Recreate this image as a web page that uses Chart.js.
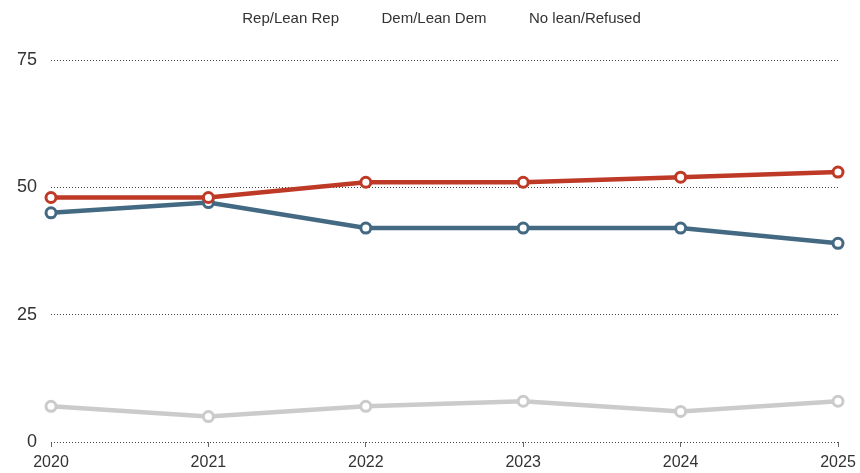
<!DOCTYPE html>
<html>
<head>
<meta charset="utf-8">
<script src="https://cdn.jsdelivr.net/npm/chart.js@4.4.0/dist/chart.umd.min.js"></script>
<style>
  html, body { margin: 0; padding: 0; background: #fff; }
  #wrap { width: 860px; height: 473px; }
</style>
</head>
<body>
<div id="wrap"><canvas id="c" width="860" height="473"></canvas></div>
<script>
const years = ['2020', '2021', '2022', '2023', '2024', '2025'];
const repLean = [48, 48, 51, 51, 52, 53];
const demLean = [45, 47, 42, 42, 42, 39];
const noLean = [7, 5, 7, 8, 6, 8];
const yTicks = [0, 25, 50, 75];

const font = "'Liberation Sans', Arial, sans-serif";

function series(label, data, color) {
	return {
		label: label,
		data: data,
		borderColor: color,
		backgroundColor: '#fff',
		borderWidth: 4.5,
		pointRadius: 5,
		pointBorderWidth: 3,
		pointBackgroundColor: '#fff',
		pointBorderColor: color,
		tension: 0
	};
}

// push the plot down below the legend
const legendGap = {
	id: 'legendGap',
	afterInit(chart) {
		const lg = chart.legend;
		const fit = lg.fit;
		lg.fit = function() {
			fit.call(this);
			this.height += 24;
		};
	}
};

new Chart(document.getElementById('c'), {
	type: 'line',
	data: {
		labels: years,
		datasets: [
			series('Rep/Lean Rep', repLean, '#be3a26'),
			series('Dem/Lean Dem', demLean, '#436983'),
			series('No lean/Refused', noLean, '#cbcbcb')
		]
	},
	options: {
		responsive: false,
		animation: false,
		layout: { padding: { top: 6, right: 22, left: 0, bottom: 0 } },
		plugins: {
			legend: {
				labels: {
					boxWidth: 0,
					boxHeight: 0,
					padding: 5,
					color: '#333',
					font: { family: font, size: 15 },
					// first item gets extra leading space so the row sits right of centre
					generateLabels: chart => chart.data.datasets.map((d, i) => ({
						text: (i === 0 ? '\u2003\u2003\u2002' : '') + '\u2003' + d.label + '\u2003',
						datasetIndex: i,
						fillStyle: 'rgba(0,0,0,0)',
						strokeStyle: 'rgba(0,0,0,0)',
						lineWidth: 0,
						fontColor: '#333'
					}))
				},
				onClick: null
			},
			tooltip: { enabled: false }
		},
		scales: {
			x: {
				offset: false,
				afterFit: s => { s.height = 31; s.paddingRight = 0; s.paddingLeft = 0; },
				border: { display: false },
				grid: { drawOnChartArea: false, drawTicks: true, tickLength: 5, color: '#666' },
				ticks: { color: '#333', padding: 8, font: { family: font, size: 16, lineHeight: 1 } }
			},
			y: {
				min: 0,
				max: 75,
				afterBuildTicks: s => { s.ticks = yTicks.map(v => ({ value: v })); },
				afterFit: s => { s.width = 51; },
				border: { display: false, dash: [1, 2] },
				grid: { drawTicks: false, color: '#444', lineWidth: 1 },
				ticks: { color: '#333', padding: 14, font: { family: font, size: 18 } }
			}
		}
	},
	plugins: [legendGap]
});
</script>
</body>
</html>
